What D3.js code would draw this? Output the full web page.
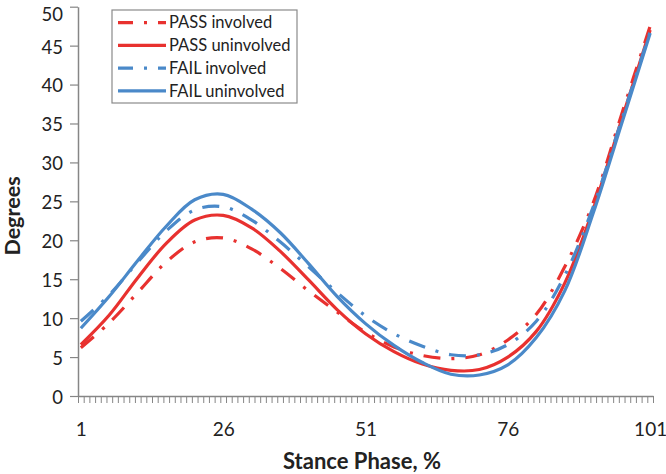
<!DOCTYPE html>
<html>
<head>
<meta charset="utf-8">
<script src="https://cdn.jsdelivr.net/npm/d3@7"></script>
<style>
  html, body { margin: 0; padding: 0; background: #fff; }
  svg { display: block; font-family: Lato, "Open Sans", sans-serif; }
</style>
</head>
<body>
<svg id="chart" width="666" height="474"></svg>
<script>
// ---- data ----
const stance = [1, 6, 11, 16, 21, 26, 31, 36, 41, 46, 51, 56, 61, 66, 71, 76, 81, 86, 91, 96, 101];
const passInvolved   = [6.2, 9.4, 13.3, 17.2, 19.8, 20.3, 18.9, 16.4, 13.5, 10.8, 8.2, 6.3, 5.2, 4.8, 5.3, 7.2, 10.5, 16.6, 24.8, 36.2, 47.5];
const passUninvolved = [6.6, 10.4, 15.2, 19.6, 22.6, 23.2, 21.6, 18.6, 14.9, 11.1, 8.0, 5.7, 4.1, 3.3, 3.4, 5.0, 8.3, 14.5, 24.0, 35.5, 47.0];
const failInvolved   = [9.6, 13.0, 17.2, 21.2, 23.9, 24.3, 22.6, 19.8, 16.6, 13.3, 10.3, 8.0, 6.4, 5.3, 5.3, 6.6, 9.6, 15.5, 24.3, 35.5, 46.8];
const failUninvolved = [8.7, 12.8, 17.4, 21.8, 25.2, 25.9, 24.0, 21.0, 17.0, 12.8, 9.3, 6.5, 4.3, 2.8, 2.7, 4.0, 7.5, 13.5, 23.5, 35.0, 46.6];
const seriesNames = ["PASS involved", "PASS uninvolved", "FAIL involved", "FAIL uninvolved"];
const xTickLabels = [1, 26, 51, 76, 101];
const yTickValues = [0, 5, 10, 15, 20, 25, 30, 35, 40, 45, 50];

const RED = "#e8312f", BLUE = "#4a89c9";
const series = [
  { name: seriesNames[0], values: passInvolved,   color: RED,  dash: "17,11,3,11" },
  { name: seriesNames[1], values: passUninvolved, color: RED,  dash: null },
  { name: seriesNames[2], values: failInvolved,   color: BLUE, dash: "17,11,3,11" },
  { name: seriesNames[3], values: failUninvolved, color: BLUE, dash: null }
];

const svg = d3.select("#chart");
const x = d3.scaleLinear().domain([0.5, 101.5]).range([78, 653]);
const y = d3.scaleLinear().domain([0, 50]).range([396, 6.7]);
const AXIS = "#868686";

// x axis minor ticks (category boundaries)
const gxt = svg.append("g").attr("transform", `translate(0,${y(0)})`)
  .call(d3.axisBottom(x).tickValues(d3.range(0.5, 101.6, 1)).tickFormat("").tickSize(7).tickSizeOuter(0));
gxt.select(".domain").attr("stroke", AXIS).attr("stroke-width", 1.5);
gxt.selectAll(".tick line").attr("stroke", AXIS).attr("stroke-width", 1);

// x axis labels
const gxl = svg.append("g").attr("transform", `translate(0,${y(0)})`)
  .call(d3.axisBottom(x).tickValues(xTickLabels).tickSize(0).tickPadding(27));
gxl.select(".domain").remove();
gxl.selectAll("text").attr("font-size", 19).attr("fill", "#222").attr("font-family", "Lato, sans-serif");

// y axis
const gy = svg.append("g").attr("transform", `translate(${x(0.5)},0)`)
  .call(d3.axisLeft(y).tickValues(yTickValues).tickSize(8).tickPadding(7).tickSizeOuter(0));
gy.select(".domain").attr("stroke", AXIS).attr("stroke-width", 1.5);
gy.selectAll(".tick line").attr("stroke", AXIS).attr("stroke-width", 1.2);
gy.selectAll("text").attr("font-size", 18.5).attr("fill", "#222").attr("font-family", "Lato, sans-serif")
  .attr("dy", d => d === 50 ? "0.72em" : "0.4em");

// lines
const line = d3.line()
  .x((d, i) => x(stance[i]))
  .y(d => y(d))
  .curve(d3.curveCatmullRom.alpha(0.5));

svg.append("g").selectAll("path").data(series).join("path")
  .attr("d", d => line(d.values))
  .attr("fill", "none")
  .attr("stroke", d => d.color)
  .attr("stroke-width", 3.2)
  .attr("stroke-dasharray", d => d.dash)
  .attr("stroke-linecap", "butt");

// legend
const lg = svg.append("g");
lg.append("rect").attr("x", 112).attr("y", 10).attr("width", 185).attr("height", 93)
  .attr("fill", "#fff").attr("stroke", "#8a8a8a").attr("stroke-width", 1.2);
const rows = lg.selectAll("g.row").data(series).join("g").attr("class", "row")
  .attr("transform", (d, i) => `translate(0,${22.7 + i * 22.7})`);
rows.append("line").attr("x1", 118).attr("x2", 166).attr("y1", 0).attr("y2", 0)
  .attr("stroke", d => d.color).attr("stroke-width", 3.2)
  .attr("stroke-dasharray", d => d.dash ? "15,11,3,11" : null);
rows.append("text").attr("x", 169).attr("y", 0).attr("dy", "0.35em")
  .attr("font-size", 16.5).attr("fill", "#222").text(d => d.name);

// axis titles
svg.append("text").attr("x", 362).attr("y", 469).attr("text-anchor", "middle")
  .attr("font-size", 22).attr("font-weight", "bold").attr("fill", "#222")
  .text("Stance Phase, %");
svg.append("text").attr("transform", "translate(20,216) rotate(-90)").attr("text-anchor", "middle")
  .attr("font-size", 21.5).attr("font-weight", "bold").attr("fill", "#222")
  .text("Degrees");
</script>
</body>
</html>
